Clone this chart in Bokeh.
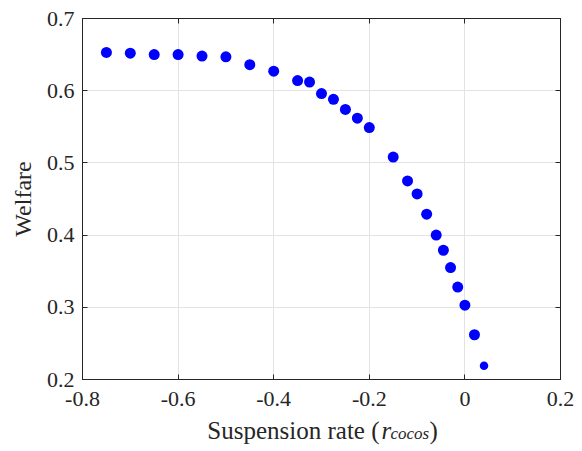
from bokeh.plotting import figure
from bokeh.layouts import column
from bokeh.models import LinearAxis, Range1d, FixedTicker, ColumnDataSource
from bokeh.core.properties import value
from bokeh.embed import file_html
from bokeh.resources import INLINE

# Data
suspension_rate = [-0.75, -0.70, -0.65, -0.60, -0.55, -0.50, -0.45, -0.40, -0.35, -0.325,
                   -0.30, -0.275, -0.25, -0.225, -0.20, -0.15, -0.12, -0.10, -0.08, -0.06,
                   -0.045, -0.03, -0.015, 0.0, 0.02, 0.04]
welfare = [0.653, 0.652, 0.650, 0.650, 0.648, 0.647, 0.636, 0.627, 0.614, 0.612,
           0.596, 0.588, 0.574, 0.562, 0.549, 0.508, 0.475, 0.457, 0.429, 0.400,
           0.379, 0.355, 0.328, 0.303, 0.262, 0.219]
x_ticks = [-0.8, -0.6, -0.4, -0.2, 0.0, 0.2]
x_tick_labels = ["-0.8", "-0.6", "-0.4", "-0.2", "0", "0.2"]
y_ticks = [0.2, 0.3, 0.4, 0.5, 0.6, 0.7]
y_tick_labels = ["0.2", "0.3", "0.4", "0.5", "0.6", "0.7"]
y_label = "Welfare"
x_label_main = "Suspension rate ("
x_label_var = "r"
x_label_sub = "cocos"
x_label_close = ")"

FONT = "Liberation Serif"
TXT = "#262626"
AX = "#262626"
W = 574
ML, MR = 82, 14
H_MAIN = 416

marker_sizes = [11] * (len(welfare) - 1) + [8.5]
src = ColumnDataSource(dict(x=suspension_rate, y=welfare, s=marker_sizes))

p = figure(width=W, height=H_MAIN, output_backend="svg", toolbar_location=None, title=None,
           x_range=Range1d(-0.8, 0.2), y_range=Range1d(0.2, 0.7),
           min_border_left=ML, min_border_right=MR, min_border_top=18, min_border_bottom=37,
           x_axis_location=None, y_axis_location=None)
p.background_fill_color = "white"
p.border_fill_color = "white"
p.outline_line_color = AX
p.outline_line_width = 1

def style_axis(ax, ticks, labels, show_labels):
    ax.ticker = FixedTicker(ticks=ticks)
    ax.major_label_overrides = {t: l for t, l in zip(ticks, labels)}
    ax.axis_line_color = AX
    ax.axis_line_width = 1
    ax.major_tick_line_color = AX
    ax.major_tick_in = 5
    ax.major_tick_out = 0
    ax.minor_tick_line_color = None
    ax.major_label_text_font = FONT
    ax.major_label_text_color = TXT
    if show_labels:
        ax.major_label_text_font_size = "22px"
    else:
        ax.major_label_text_font_size = "0px"
        ax.major_label_standoff = 0

xb = LinearAxis()
style_axis(xb, x_ticks, x_tick_labels, True)
xb.major_label_standoff = 12
p.add_layout(xb, "below")
xt = LinearAxis()
style_axis(xt, x_ticks, x_tick_labels, False)
p.add_layout(xt, "above")
yl = LinearAxis()
style_axis(yl, y_ticks, y_tick_labels, True)
yl.major_label_standoff = 8
yl.axis_label = y_label
yl.axis_label_text_font = FONT
yl.axis_label_text_font_size = "24px"
yl.axis_label_text_font_style = "normal"
yl.axis_label_text_color = TXT
yl.axis_label_standoff = 8
p.add_layout(yl, "left")
yr = LinearAxis()
style_axis(yr, y_ticks, y_tick_labels, False)
p.add_layout(yr, "right")

p.xgrid.ticker = FixedTicker(ticks=x_ticks)
p.ygrid.ticker = FixedTicker(ticks=y_ticks)
p.xgrid.grid_line_color = "#e3e3e3"
p.ygrid.grid_line_color = "#e3e3e3"

p.scatter("x", "y", source=src, size="s", marker="circle",
          fill_color="#0000ff", line_color="#0000ff", line_width=0)

# x-axis label strip (shares the x range so it is centred on the frame)
q = figure(width=W, height=33, output_backend="svg", toolbar_location=None, title=None,
           x_range=p.x_range, y_range=Range1d(0, 1),
           min_border_left=ML, min_border_right=MR, min_border_top=0, min_border_bottom=0,
           x_axis_location=None, y_axis_location=None)
q.outline_line_color = None
q.xgrid.visible = False
q.ygrid.visible = False
q.background_fill_color = "white"
q.border_fill_color = "white"

xc = -0.3
BASE = 14
q.text(x=[xc], y=[1], text=[x_label_main], x_offset=58, y_offset=BASE,
       text_font=value(FONT), text_font_size="25px", text_color=TXT,
       text_align="right", text_baseline="alphabetic")
q.text(x=[xc], y=[1], text=[x_label_var], x_offset=60, y_offset=BASE,
       text_font=value(FONT), text_font_size="25px", text_font_style="italic",
       text_color=TXT, text_align="left", text_baseline="alphabetic")
q.text(x=[xc], y=[1], text=[x_label_sub], x_offset=69, y_offset=BASE + 3,
       text_font=value(FONT), text_font_size="17px", text_font_style="italic",
       text_color=TXT, text_align="left", text_baseline="alphabetic")
q.text(x=[xc], y=[1], text=[x_label_close], x_offset=108, y_offset=BASE,
       text_font=value(FONT), text_font_size="25px", text_color=TXT,
       text_align="left", text_baseline="alphabetic")

layout = column(p, q, spacing=0)
open("out.html", "w").write(file_html(layout, INLINE))
